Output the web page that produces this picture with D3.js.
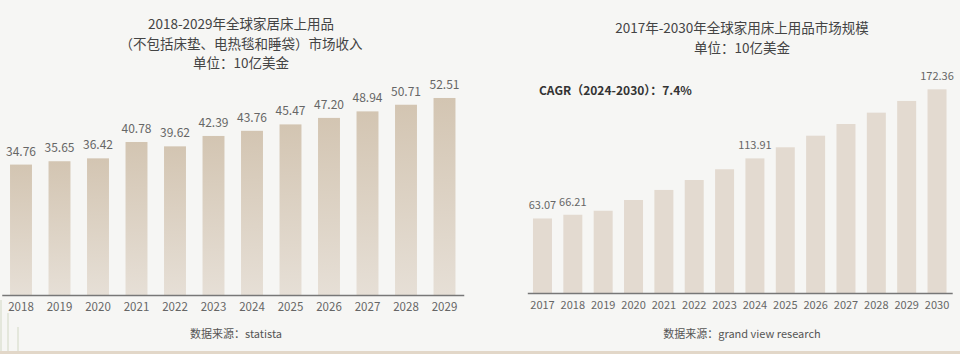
<!DOCTYPE html>
<html><head><meta charset="utf-8">
<script src="https://cdn.jsdelivr.net/npm/d3@7"></script>
<style>
html,body{margin:0;padding:0;background:#f6f6f4;}
svg{display:block;font-family:"Noto Sans CJK SC","Noto Sans",sans-serif;}
</style></head>
<body><svg id="c" width="960" height="354"></svg>
<script>
const leftYears = ["2018","2019","2020","2021","2022","2023","2024","2025","2026","2027","2028","2029"];
const leftValues = [34.76,35.65,36.42,40.78,39.62,42.39,43.76,45.47,47.20,48.94,50.71,52.51];
const leftTitle = ["2018-2029年全球家居床上用品","（不包括床垫、电热毯和睡袋）市场收入","单位：10亿美金"];
const leftSource = "数据来源：statista";

const rightYears = ["2017","2018","2019","2020","2021","2022","2023","2024","2025","2026","2027","2028","2029","2030"];
const rightValues = [63.07,66.21,69.6,78.7,87.2,95.6,104.7,113.91,123.3,133.1,143.0,152.6,162.5,172.36];
const rightLabeled = ["2017","2018","2024","2030"];
const rightTitle = ["2017年-2030年全球家用床上用品市场规模","单位：10亿美金"];
const rightSource = "数据来源：grand view research";
const cagrText = "CAGR（2024-2030）：7.4%";

const svg = d3.select("#c");
svg.append("rect").attr("width",960).attr("height",354).attr("fill","#f6f6f4");

// decorative bottom strip and faint lines
svg.append("rect").attr("x",0).attr("y",351).attr("width",960).attr("height",3).attr("fill","#e2d7c8");
[[0,300,2],[7,313,2],[17,327,2]].forEach(d=>{
  svg.append("rect").attr("x",d[0]).attr("y",d[1]).attr("width",d[2]).attr("height",351-d[1]).attr("fill","#e4e7dc");
});

const defs = svg.append("defs");
const g = defs.append("linearGradient").attr("id","lg").attr("x1",0).attr("y1",0).attr("x2",0).attr("y2",1);
g.append("stop").attr("offset","0%").attr("stop-color","#d3c5b2");
g.append("stop").attr("offset","100%").attr("stop-color","#e6dfd6");

// ---------- Left chart ----------
const xL = d3.scaleBand().domain(leftYears).range([1.75,463.75]).paddingInner(0.43).paddingOuter(0.215);
const yL = d3.scaleLinear().domain([0,60]).range([295,295-60*3.752]);
const L = svg.append("g");
L.selectAll("rect.bar").data(leftYears).join("rect").attr("class","bar")
  .attr("x",d=>xL(d)).attr("width",xL.bandwidth())
  .attr("y",(d,i)=>yL(leftValues[i])).attr("height",(d,i)=>yL(0)-yL(leftValues[i]))
  .attr("fill","url(#lg)");
L.selectAll("text.val").data(leftYears).join("text").attr("class","val")
  .attr("x",d=>xL(d)+xL.bandwidth()/2).attr("y",(d,i)=>yL(leftValues[i])-9)
  .attr("text-anchor","middle").attr("font-size",12).attr("fill","#666")
  .text((d,i)=>leftValues[i].toFixed(2));
const axL = L.append("g").attr("transform","translate(0,295)")
  .call(d3.axisBottom(xL).tickSize(0).tickPadding(8));
axL.select(".domain").attr("stroke","#777").attr("stroke-width",1.5);
axL.selectAll("text").attr("font-size",11.5).attr("fill","#666").attr("font-family","'Noto Sans CJK SC','Noto Sans',sans-serif");
leftTitle.forEach((t,i)=>{
  L.append("text").attr("x",241).attr("y",29+i*19.5).attr("text-anchor","middle")
   .attr("font-size",13.5).attr("fill","#444").text(t);
});
L.append("text").attr("x",236).attr("y",338).attr("text-anchor","middle").attr("font-size",11).attr("fill","#555").text(leftSource);

// ---------- Right chart ----------
const xR = d3.scaleBand().domain(rightYears).range([527.3,952.2]).paddingInner(0.374).paddingOuter(0.187);
const yR = d3.scaleLinear().domain([0,200]).range([293,293-200*1.1818]);
const R = svg.append("g");
R.selectAll("rect.bar").data(rightYears).join("rect").attr("class","bar")
  .attr("x",d=>xR(d)).attr("width",xR.bandwidth())
  .attr("y",(d,i)=>yR(rightValues[i])).attr("height",(d,i)=>yR(0)-yR(rightValues[i]))
  .attr("fill","#e3dad0");
R.selectAll("text.val").data(rightYears.filter(y=>rightLabeled.includes(y))).join("text").attr("class","val")
  .attr("x",d=>xR(d)+xR.bandwidth()/2).attr("y",d=>yR(rightValues[rightYears.indexOf(d)])-9)
  .attr("text-anchor","middle").attr("font-size",11).attr("fill","#666")
  .text(d=>rightValues[rightYears.indexOf(d)].toFixed(2));
const axR = R.append("g").attr("transform","translate(0,293)")
  .call(d3.axisBottom(xR).tickSize(0).tickPadding(8));
axR.select(".domain").attr("stroke","#777").attr("stroke-width",1.5);
axR.selectAll("text").attr("font-size",11).attr("fill","#666").attr("font-family","'Noto Sans CJK SC','Noto Sans',sans-serif");
rightTitle.forEach((t,i)=>{
  R.append("text").attr("x",742).attr("y",33+i*20).attr("text-anchor","middle")
   .attr("font-size",13.5).attr("fill","#444").text(t);
});
R.append("text").attr("x",539).attr("y",95).attr("font-size",12).attr("font-weight","bold").attr("fill","#333").text(cagrText);
R.append("text").attr("x",742).attr("y",338).attr("text-anchor","middle").attr("font-size",11).attr("fill","#555").text(rightSource);
</script></body></html>
